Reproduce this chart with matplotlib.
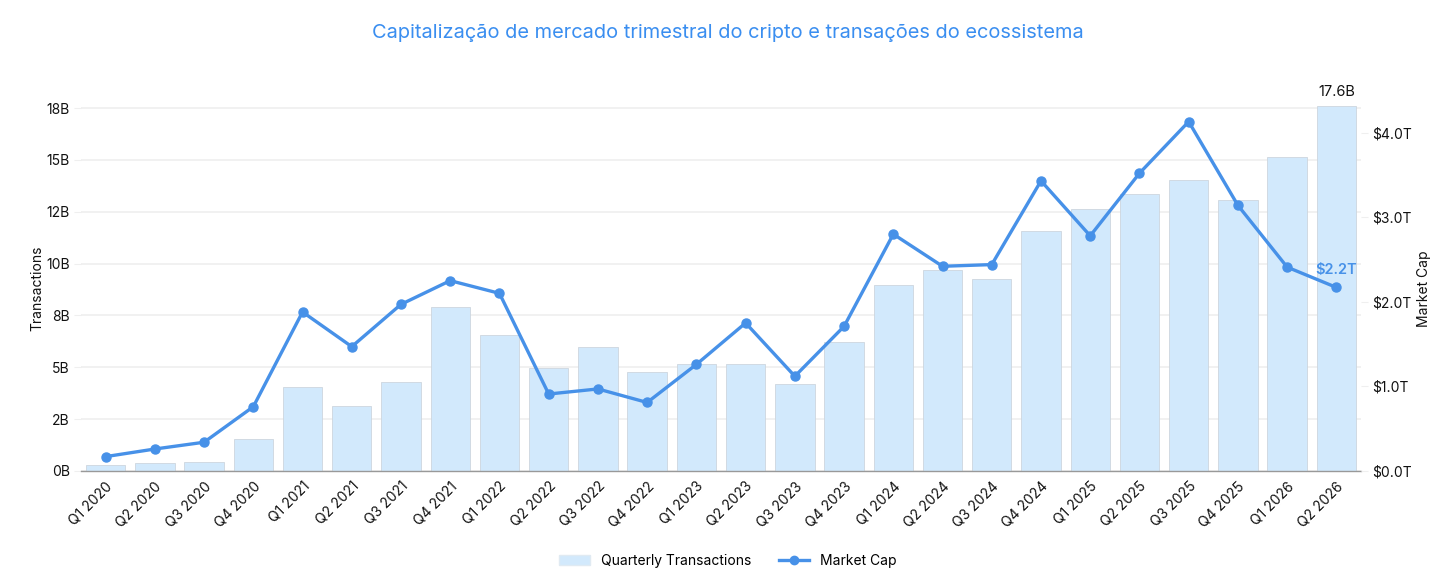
import matplotlib
matplotlib.use("Agg")
import matplotlib.pyplot as plt
import numpy as np
from matplotlib.lines import Line2D
from matplotlib.patches import Patch

plt.rcParams['font.family'] = ['Inter', 'DejaVu Sans']

quarters = ["Q1 2020", "Q2 2020", "Q3 2020", "Q4 2020",
            "Q1 2021", "Q2 2021", "Q3 2021", "Q4 2021",
            "Q1 2022", "Q2 2022", "Q3 2022", "Q4 2022",
            "Q1 2023", "Q2 2023", "Q3 2023", "Q4 2023",
            "Q1 2024", "Q2 2024", "Q3 2024", "Q4 2024",
            "Q1 2025", "Q2 2025", "Q3 2025", "Q4 2025",
            "Q1 2026", "Q2 2026"]

transactions_b = [0.29, 0.40, 0.43, 1.54,
                  4.05, 3.15, 4.27, 7.92,
                  6.56, 4.98, 5.96, 4.77,
                  5.16, 5.16, 4.19, 6.22,
                  8.95, 9.68, 9.26, 11.57,
                  12.62, 13.36, 14.03, 13.05,
                  15.12, 17.6]

market_cap_t = [0.17, 0.26, 0.34, 0.76,
                1.88, 1.47, 1.97, 2.25,
                2.10, 0.91, 0.97, 0.81,
                1.26, 1.75, 1.12, 1.71,
                2.80, 2.42, 2.44, 3.43,
                2.78, 3.52, 4.13, 3.14,
                2.41, 2.17]

left_ticks = [0, 2.5, 5, 7.5, 10, 12.5, 15, 17.5]
left_tick_labels = ["0B", "2B", "5B", "8B", "10B", "12B", "15B", "18B"]
right_ticks = [0, 1, 2, 3, 4]
right_tick_labels = ["$0.0T", "$1.0T", "$2.0T", "$3.0T", "$4.0T"]

title = "Capitalização de mercado trimestral do cripto e transações do ecossistema"

BAR_C = "#d2e9fc"
LINE_C = "#4791e8"
TITLE_C = "#3a8ef0"
GRID_C = "#efefef"

W, H = 1456, 588
fig = plt.figure(figsize=(W / 100, H / 100), dpi=100)
left_px, right_px, top_px, bottom_px = 81, 1361, 106, 471
ax = fig.add_axes([left_px / W, 1 - bottom_px / H,
                   (right_px - left_px) / W, (bottom_px - top_px) / H])

x = np.arange(len(quarters))
ax.bar(x, transactions_b, width=0.8, color=BAR_C, edgecolor="#cdd6de",
       linewidth=0.6, zorder=2)
ax.set_xlim(-0.5, len(quarters) - 0.5)
ax.set_ylim(0, 17.6)
ax.set_yticks(left_ticks)
ax.set_yticklabels(left_tick_labels)
ax.grid(axis='y', color=GRID_C, linewidth=1.2, zorder=0)
ax.set_axisbelow(True)
for s in ['top', 'right', 'left']:
    ax.spines[s].set_visible(False)
ax.spines['bottom'].set_color('#999999')
ax.spines['bottom'].set_linewidth(1.0)
ax.tick_params(axis='y', length=5, color=GRID_C, labelsize=10, pad=3,
               labelcolor='#111111')
ax.tick_params(axis='x', length=0, labelsize=10, pad=6, labelcolor='#111111')
ax.set_xticks(x)
ax.set_xticklabels(quarters, rotation=45, ha='right', rotation_mode='anchor')
ax.set_ylabel("Transactions", fontsize=10, color='#111111', labelpad=1)

ax.text(x[-1], transactions_b[-1] + 0.35, "17.6B", ha='center', va='bottom',
        fontsize=10.5, color='#111111')

ax2 = ax.twinx()
ax2.set_ylim(0, 17.6 * 20.74 / 84.6)
ax2.plot(x, market_cap_t, color=LINE_C, linewidth=2.4, marker='o',
         markersize=6.5, zorder=3)
ax2.set_yticks(right_ticks)
ax2.set_yticklabels(right_tick_labels)
for s in ['top', 'right', 'left', 'bottom']:
    ax2.spines[s].set_visible(False)
ax2.tick_params(axis='y', length=5, color=GRID_C, labelsize=10, pad=3,
                labelcolor='#111111')
ax2.set_ylabel("Market Cap", fontsize=10, color='#111111', labelpad=4)
ax2.text(x[-1], market_cap_t[-1] + 0.12, "$2.2T", ha='center', va='bottom',
         fontsize=10.5, color=LINE_C, fontweight='semibold')

fig.text(0.5, 1 - 33 / H, title, ha='center', va='center', fontsize=14.4,
         color=TITLE_C)

handles = [Patch(facecolor=BAR_C, edgecolor='#e0eaf2'),
           Line2D([0], [0], color=LINE_C, linewidth=2.4, marker='o', markersize=6)]
fig.legend(handles, ["Quarterly Transactions", "Market Cap"],
           loc='center', bbox_to_anchor=(0.5, 1 - 561 / H), ncol=2,
           frameon=False, fontsize=10, handlelength=2.2, columnspacing=2.0)

fig.savefig("out.png", dpi=100, facecolor='white')
